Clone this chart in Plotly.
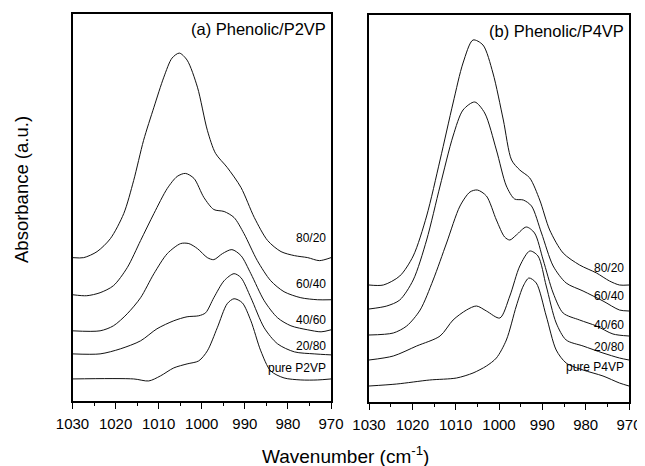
import plotly.graph_objects as go

# ---------------- Data ----------------
# Panel (a) Phenolic/P2VP
a_w_8020 = [1030, 1027.4, 1024.3, 1021.2, 1018.1, 1015.8, 1013.5, 1011.1, 1008.8, 1006.9, 1005.2, 1003.4,
            1001.0, 998.7, 996.8, 994.1, 990.9, 987.8, 984.7, 981.6, 978.5, 975.4, 972.7, 970]
a_A_8020 = [1.43, 1.43, 1.49, 1.62, 1.87, 2.20, 2.60, 2.93, 3.23, 3.42, 3.47, 3.40,
            3.13, 2.70, 2.47, 2.33, 2.13, 1.83, 1.60, 1.49, 1.45, 1.43, 1.40, 1.43]

a_w_6040 = [1030, 1026.7, 1023.6, 1020.5, 1017.3, 1014.2, 1011.1, 1008.0, 1005.7, 1003.8, 1001.8,
            999.5, 997.2, 994.8, 992.5, 990.2, 987.1, 984.0, 980.9, 977.0, 973.1, 970]
a_A_6040 = [1.06, 1.05, 1.08, 1.15, 1.33, 1.60, 1.87, 2.12, 2.24, 2.27, 2.22,
            2.03, 1.91, 1.89, 1.83, 1.67, 1.40, 1.20, 1.09, 1.03, 1.01, 1.01]

a_w_4060 = [1030, 1023.6, 1020.5, 1017.3, 1014.2, 1011.1, 1008.0, 1004.9, 1003.0, 1001.0, 998.7,
            997.2, 995.2, 993.0, 990.9, 988.6, 985.5, 982.4, 979.3, 975.4, 972.3, 970]
a_A_4060 = [0.70, 0.70, 0.75, 0.87, 1.03, 1.27, 1.47, 1.57, 1.57, 1.52, 1.43,
            1.41, 1.47, 1.51, 1.45, 1.27, 1.00, 0.83, 0.75, 0.71, 0.69, 0.71]

a_w_2080 = [1030, 1023.6, 1018.9, 1014.2, 1010.4, 1006.5, 1003.4, 1000.7, 999.1, 997.2, 994.8,
            992.5, 990.9, 988.6, 985.5, 982.4, 978.5, 973.9, 970]
a_A_2080 = [0.47, 0.47, 0.52, 0.60, 0.72, 0.80, 0.84, 0.85, 0.88, 1.03, 1.20,
            1.27, 1.23, 1.03, 0.73, 0.57, 0.49, 0.47, 0.46]

a_w_pure = [1030, 1015.8, 1012.3, 1009.6, 1006.5, 1003.4, 1000.7, 998.7, 996.4, 994.1, 992.5,
            990.6, 988.6, 986.3, 984.0, 980.9, 977.0, 973.1, 970]
a_A_pure = [0.22, 0.22, 0.20, 0.25, 0.33, 0.37, 0.40, 0.50, 0.73, 0.97, 1.02,
            0.98, 0.80, 0.50, 0.30, 0.23, 0.21, 0.21, 0.22]

# Panel (b) Phenolic/P4VP
b_w_8020 = [1030, 1026.7, 1022.9, 1019.8, 1016.7, 1013.6, 1010.6, 1008.3, 1006.0, 1003.7, 1001.4,
            999.0, 997.1, 995.2, 992.9, 990.6, 988.3, 985.2, 981.4, 977.5, 974.5, 972.2, 970]
b_A_8020 = [1.17, 1.17, 1.26, 1.46, 1.86, 2.42, 2.99, 3.39, 3.62, 3.57, 3.29,
            2.82, 2.42, 2.32, 2.24, 2.02, 1.72, 1.49, 1.37, 1.29, 1.21, 1.17, 1.17]

b_w_6040 = [1030, 1025.9, 1022.9, 1019.8, 1016.7, 1013.6, 1010.6, 1008.3, 1005.6, 1003.3, 1000.6,
            998.3, 996.4, 994.4, 992.5, 990.2, 987.5, 984.5, 980.6, 976.0, 972.2, 970]
b_A_6040 = [0.93, 0.96, 1.02, 1.22, 1.62, 2.16, 2.66, 2.92, 3.00, 2.89, 2.52,
            2.16, 2.03, 2.02, 1.96, 1.69, 1.36, 1.19, 1.11, 1.01, 0.92, 0.91]

b_w_4060 = [1030, 1024.4, 1021.3, 1018.2, 1015.2, 1012.1, 1009.0, 1006.7, 1005.0, 1002.9, 1000.6,
            998.7, 997.5, 996.0, 993.7, 991.8, 989.8, 987.5, 985.2, 981.4, 977.5, 973.7, 970]
b_A_4060 = [0.67, 0.69, 0.76, 0.92, 1.22, 1.59, 1.96, 2.10, 2.12, 2.06, 1.82,
            1.65, 1.62, 1.67, 1.75, 1.69, 1.42, 1.09, 0.89, 0.82, 0.76, 0.68, 0.66]

b_w_2080 = [1030, 1024.4, 1019.0, 1013.6, 1010.6, 1007.5, 1005.2, 1002.9, 999.8, 997.5, 995.2,
            992.9, 991.0, 989.1, 986.8, 984.5, 980.6, 976.0, 972.2, 970]
b_A_2080 = [0.42, 0.46, 0.56, 0.66, 0.82, 0.92, 0.96, 0.91, 0.84, 1.06, 1.36,
            1.51, 1.46, 1.16, 0.79, 0.62, 0.56, 0.49, 0.44, 0.42]

b_w_pure = [1030, 1023.6, 1016.0, 1009.8, 1006.0, 1002.9, 1000.6, 998.3, 996.0, 994.4, 993.1,
            991.4, 989.1, 986.8, 984.5, 980.6, 976.0, 972.2, 970]
b_A_pure = [0.16, 0.18, 0.22, 0.24, 0.29, 0.36, 0.44, 0.62, 0.96, 1.16, 1.24,
            1.19, 0.86, 0.52, 0.39, 0.32, 0.26, 0.19, 0.16]

a_labels = ["80/20", "60/40", "40/60", "20/80", "pure P2VP"]
a_label_y = [1.63, 1.17, 0.81, 0.55, 0.33]
b_labels = ["80/20", "60/40", "40/60", "20/80", "pure P4VP"]
b_label_y = [1.34, 1.06, 0.77, 0.55, 0.35]

panel_titles = ["(a) Phenolic/P2VP", "(b) Phenolic/P4VP"]
x_ticks = [1030, 1020, 1010, 1000, 990, 980, 970]

# ---------------- Figure ----------------
# The page body adds an 8px margin, so the figure is 8px smaller and every
# position is measured from (8, 8) of the window.
W, H = 637, 458
OFF = 8
FONT = "Liberation Sans, Arial, sans-serif"
fig = go.Figure()

line_style = dict(color="#111111", width=1, shape="spline", smoothing=0.8)

for w, A in [(a_w_8020, a_A_8020), (a_w_6040, a_A_6040), (a_w_4060, a_A_4060),
             (a_w_2080, a_A_2080), (a_w_pure, a_A_pure)]:
    fig.add_trace(go.Scatter(x=w, y=A, mode="lines", line=line_style,
                             xaxis="x", yaxis="y", showlegend=False, hoverinfo="skip"))

for w, A in [(b_w_8020, b_A_8020), (b_w_6040, b_A_6040), (b_w_4060, b_A_4060),
             (b_w_2080, b_A_2080), (b_w_pure, b_A_pure)]:
    fig.add_trace(go.Scatter(x=w, y=A, mode="lines", line=line_style,
                             xaxis="x2", yaxis="y2", showlegend=False, hoverinfo="skip"))

xaxis_common = dict(
    range=[1030, 970], tickvals=x_ticks, ticktext=[str(t) for t in x_ticks],
    ticks="outside", ticklen=6, tickwidth=1.2, tickcolor="black",
    minor=dict(ticks="outside", ticklen=3.5, tickwidth=1.2, tickcolor="black", dtick=5, tick0=970),
    showline=True, linecolor="black", linewidth=1.5, mirror=True,
    showgrid=False, zeroline=False, automargin=False,
    tickfont=dict(family=FONT, size=15, color="black"),
    ticklabelstandoff=2,
)
yaxis_common = dict(
    showticklabels=False, ticks="", showline=True, linecolor="black", linewidth=1.5,
    mirror=True, showgrid=False, zeroline=False, automargin=False,
)


def px_x(x):
    return (x - OFF) / W


def px_y(y):
    return 1 - (y - OFF) / H


fig.update_layout(
    template="none",
    width=W, height=H, autosize=False,
    margin=dict(l=0, r=0, t=0, b=0, pad=0),
    paper_bgcolor="white", plot_bgcolor="white",
    xaxis=dict(domain=[px_x(72.5), px_x(331)], anchor="y", **xaxis_common),
    yaxis=dict(domain=[px_y(401), px_y(14)], anchor="x", range=[0, 3.86], **yaxis_common),
    xaxis2=dict(domain=[px_x(369), px_x(629)], anchor="y2", **xaxis_common),
    yaxis2=dict(domain=[px_y(402), px_y(15)], anchor="x2", range=[0, 3.87], **yaxis_common),
)

annotations = []
for txt, yv in zip(a_labels, a_label_y):
    annotations.append(dict(x=970.6, y=yv, xref="x", yref="y", text=txt, showarrow=False,
                            xanchor="right", yanchor="middle",
                            font=dict(family=FONT, size=12, color="black")))
for txt, yv in zip(b_labels, b_label_y):
    annotations.append(dict(x=970.6, y=yv, xref="x2", yref="y2", text=txt, showarrow=False,
                            xanchor="right", yanchor="middle",
                            font=dict(family=FONT, size=12, color="black")))

annotations.append(dict(x=970.6, y=3.71, xref="x", yref="y", text=panel_titles[0], showarrow=False,
                        xanchor="right", yanchor="middle", font=dict(family=FONT, size=16.5, color="black")))
annotations.append(dict(x=970.6, y=3.71, xref="x2", yref="y2", text=panel_titles[1], showarrow=False,
                        xanchor="right", yanchor="middle", font=dict(family=FONT, size=16.5, color="black")))

annotations.append(dict(x=px_x(345), y=px_y(455), xref="paper", yref="paper",
                        text="Wavenumber (cm<sup>-1</sup>)", showarrow=False,
                        xanchor="center", yanchor="middle",
                        font=dict(family=FONT, size=19, color="black")))
annotations.append(dict(x=px_x(22), y=px_y(190), xref="paper", yref="paper",
                        text="Absorbance (a.u.)", showarrow=False, textangle=-90,
                        xanchor="center", yanchor="middle",
                        font=dict(family=FONT, size=18.5, color="black")))

fig.update_layout(annotations=annotations)

fig.write_html("out.html")
